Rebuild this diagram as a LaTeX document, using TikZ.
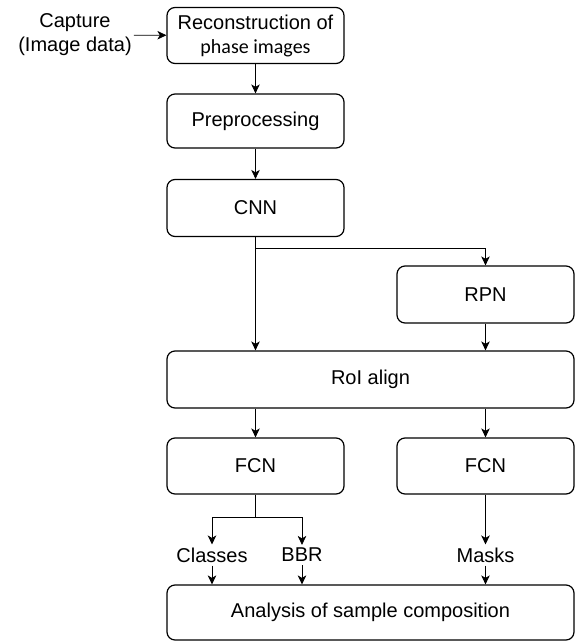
\documentclass[tikz,border=0pt]{standalone}
\usepackage{fontspec}
\setmainfont{Liberation Sans}
\newfontfamily\calibrifont{Carlito}
\usetikzlibrary{arrows.meta}

\begin{document}
\begin{tikzpicture}[x=1pt,y=-1pt,font=\fontsize{20}{24}\selectfont,
    box/.style={draw,line width=1.2pt,rounded corners=8pt,minimum width=177pt,minimum height=56pt,inner sep=0pt,align=center},
    wide/.style={box,minimum width=407pt},
    arr/.style={line width=0.8pt,-{Stealth[length=9pt,width=8.5pt,inset=2.5pt]}},
    line/.style={line width=0.8pt}]
    \useasboundingbox (0,0) rectangle (575,641);
    % main column
      \node[box] (recon) at (255.5,35.5) {Reconstruction of\\{\calibrifont phase images}};
      \node[box,minimum height=54pt] (prep) at (255.5,121) {Preprocessing};
      \node[box,minimum height=57pt] (cnn) at (255.5,208) {CNN};
      \node[box,minimum height=57pt] (rpn) at (485.5,294.5) {RPN};
      \node[wide,minimum height=57pt] (roi) at (370.5,379.5) {RoI align};
      \node[box] (fcnl) at (255.5,466) {FCN};
      \node[box] (fcnr) at (485.5,466) {FCN};
      \node[wide,minimum height=55pt] (ana) at (370.5,612.5) {Analysis of sample composition};
    % plain labels
      \node[align=center,inner sep=2pt] (capture) at (75,35) {Capture\\(Image data)};
      \node[inner sep=3pt] (classes) at (212,555) {Classes};
      \node[inner sep=3pt] (bbr) at (302,555) {BBR};
      \node[inner sep=3pt] (masks) at (485.5,555) {Masks};
      \coordinate (split) at (255.5,248);
      \coordinate (fork) at (255.5,517);
    % connectors
      \draw[arr] (capture) -- (recon);
      \draw[arr] (recon) -- (prep);
      \draw[arr] (prep) -- (cnn);
      \draw[arr] (cnn.south) -- (cnn.south |- roi.north);
      \draw[arr] (split) -| (rpn);
      \draw[arr] (rpn) -- (rpn |- roi.north);
      \draw[arr] (fcnl |- roi.south) -- (fcnl);
      \draw[arr] (fcnr |- roi.south) -- (fcnr);
      \draw[line] (fcnl) -- (fork);
      \draw[arr] (fork) -| (classes);
      \draw[arr] (fork) -| (bbr);
      \draw[arr] (fcnr) -- (masks);
      \draw[arr] (classes) -- (classes |- ana.north);
      \draw[arr] (bbr) -- (bbr |- ana.north);
      \draw[arr] (masks) -- (masks |- ana.north);
\end{tikzpicture}
\end{document}
